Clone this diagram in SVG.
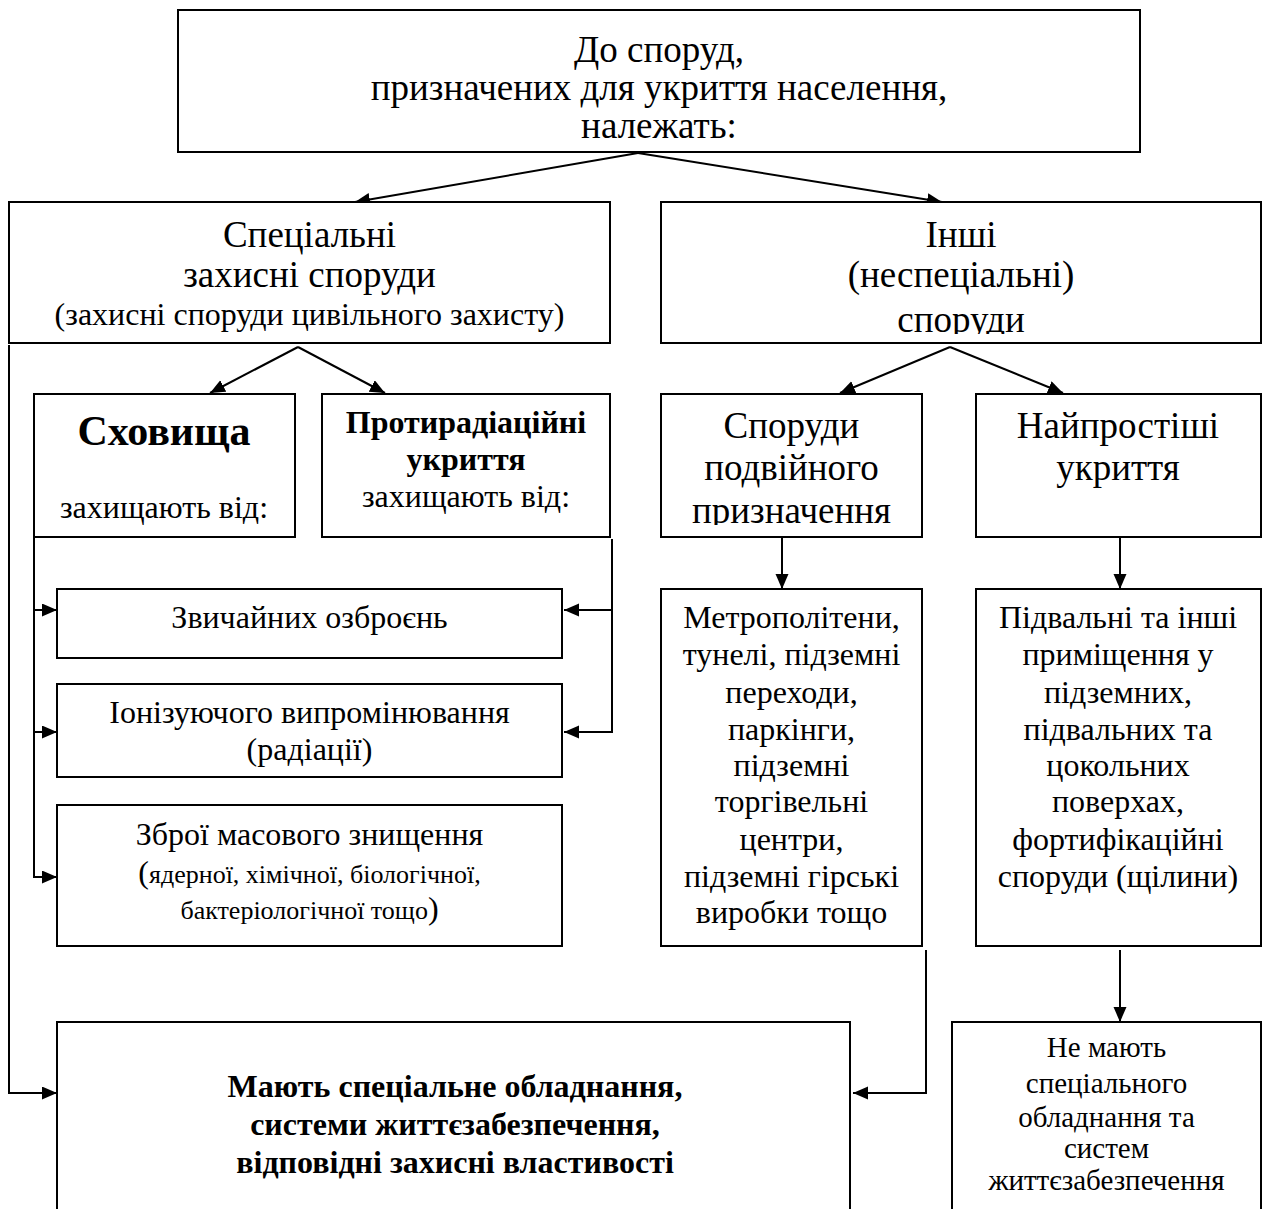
<svg xmlns="http://www.w3.org/2000/svg" width="1270" height="1209" viewBox="0 0 1270 1209">
<defs>
<style>
.box{fill:#fff;stroke:#000;stroke-width:2}
.t{font-family:"Liberation Serif","Times New Roman",serif;fill:#000;text-anchor:middle}
.c{fill:none;stroke:#000;stroke-width:2}
</style>
<marker id="ah" markerUnits="userSpaceOnUse" markerWidth="16" markerHeight="14" refX="15" refY="6.5" orient="auto">
<path d="M0,0 L15,6.5 L0,13 z" fill="#000"/>
</marker>
<clipPath id="clipInshi"><rect x="661" y="202" width="600" height="132"/></clipPath>
<clipPath id="clipSporudy"><rect x="661" y="394" width="261" height="131"/></clipPath>
</defs>
<rect width="1270" height="1209" fill="#fff"/>

<g id="connectors">
<line class="c" x1="638" y1="153" x2="355" y2="202" marker-end="url(#ah)"/>
<line class="c" x1="638" y1="153" x2="942" y2="202" marker-end="url(#ah)"/>
<line class="c" x1="298" y1="347" x2="210" y2="393" marker-end="url(#ah)"/>
<line class="c" x1="298" y1="347" x2="385" y2="393" marker-end="url(#ah)"/>
<line class="c" x1="950" y1="347" x2="840" y2="393" marker-end="url(#ah)"/>
<line class="c" x1="950" y1="347" x2="1063" y2="393" marker-end="url(#ah)"/>
<line class="c" x1="782" y1="537" x2="782" y2="589" marker-end="url(#ah)"/>
<line class="c" x1="1120" y1="537" x2="1120" y2="589" marker-end="url(#ah)"/>
<line class="c" x1="1120" y1="950" x2="1120" y2="1022" marker-end="url(#ah)"/>
<path class="c" d="M34,537 V877 H57" marker-end="url(#ah)"/>
<line class="c" x1="34" y1="610" x2="57" y2="610" marker-end="url(#ah)"/>
<line class="c" x1="34" y1="732" x2="57" y2="732" marker-end="url(#ah)"/>
<path class="c" d="M612,539 V732 H564" marker-end="url(#ah)"/>
<line class="c" x1="612" y1="610" x2="564" y2="610" marker-end="url(#ah)"/>
<path class="c" d="M9,345 V1093 H57" marker-end="url(#ah)"/>
<path class="c" d="M926,950 V1093 H853" marker-end="url(#ah)"/>
</g>

<g id="top">
<rect class="box" x="178" y="10" width="962" height="142"/>
<text class="t" font-size="37"><tspan x="659" y="62">До споруд,</tspan><tspan x="659" y="100">призначених для укриття населення,</tspan><tspan x="659" y="138">належать:</tspan></text>
</g>

<g id="special">
<rect class="box" x="9" y="202" width="601" height="141"/>
<text class="t" font-size="37"><tspan x="309.5" y="247">Спеціальні</tspan><tspan x="309.5" y="287">захисні споруди</tspan></text>
<text class="t" font-size="32" x="309.5" y="325">(захисні споруди цивільного захисту)</text>
</g>

<g id="other">
<rect class="box" x="661" y="202" width="600" height="141"/>
<g clip-path="url(#clipInshi)">
<text class="t" font-size="37"><tspan x="961" y="247">Інші</tspan><tspan x="961" y="287">(неспеціальні)</tspan><tspan x="961" y="332">споруди</tspan></text>
</g>
</g>

<g id="shelters">
<rect class="box" x="34" y="394" width="261" height="143"/>
<text class="t" font-size="42" font-weight="bold" x="164" y="445">Сховища</text>
<text class="t" font-size="32" x="164" y="518">захищають від:</text>
</g>

<g id="antirad">
<rect class="box" x="322" y="394" width="288" height="143"/>
<text class="t" font-size="32" font-weight="bold"><tspan x="466" y="433">Протирадіаційні</tspan><tspan x="466" y="470">укриття</tspan></text>
<text class="t" font-size="32" x="466" y="507">захищають від:</text>
</g>

<g id="dual">
<rect class="box" x="661" y="394" width="261" height="143"/>
<g clip-path="url(#clipSporudy)">
<text class="t" font-size="37"><tspan x="791.5" y="438">Споруди</tspan><tspan x="791.5" y="480">подвійного</tspan><tspan x="791.5" y="523">призначення</tspan></text>
</g>
</g>

<g id="simple">
<rect class="box" x="976" y="394" width="285" height="143"/>
<text class="t" font-size="37"><tspan x="1118" y="438">Найпростіші</tspan><tspan x="1118" y="480">укриття</tspan></text>
</g>

<g id="conventional">
<rect class="box" x="57" y="589" width="505" height="69"/>
<text class="t" font-size="32" x="309.5" y="628">Звичайних озброєнь</text>
</g>

<g id="ionizing">
<rect class="box" x="57" y="684" width="505" height="93"/>
<text class="t" font-size="32"><tspan x="309.5" y="723">Іонізуючого випромінювання</tspan><tspan x="309.5" y="760">(радіації)</tspan></text>
</g>

<g id="wmd">
<rect class="box" x="57" y="805" width="505" height="141"/>
<text class="t" font-size="32" x="309.5" y="845">Зброї масового знищення</text>
<text class="t" font-size="26" x="309.5" y="883"><tspan font-size="32">(</tspan>ядерної, хімічної, біологічної,</text>
<text class="t" font-size="26" x="309.5" y="919">бактеріологічної тощо<tspan font-size="32">)</tspan></text>
</g>

<g id="metro">
<rect class="box" x="661" y="589" width="261" height="357"/>
<text class="t" font-size="32"><tspan x="791.5" y="628">Метрополітени,</tspan><tspan x="791.5" y="665">тунелі, підземні</tspan><tspan x="791.5" y="703">переходи,</tspan><tspan x="791.5" y="740">паркінги,</tspan><tspan x="791.5" y="776">підземні</tspan><tspan x="791.5" y="812">торгівельні</tspan><tspan x="791.5" y="850">центри,</tspan><tspan x="791.5" y="887">підземні гірські</tspan><tspan x="791.5" y="923">виробки тощо</tspan></text>
</g>

<g id="basements">
<rect class="box" x="976" y="589" width="285" height="357"/>
<text class="t" font-size="32"><tspan x="1118" y="628">Підвальні та інші</tspan><tspan x="1118" y="665">приміщення у</tspan><tspan x="1118" y="703">підземних,</tspan><tspan x="1118" y="740">підвальних та</tspan><tspan x="1118" y="776">цокольних</tspan><tspan x="1118" y="812">поверхах,</tspan><tspan x="1118" y="850">фортифікаційні</tspan><tspan x="1118" y="887">споруди (щілини)</tspan></text>
</g>

<g id="have-equipment">
<path class="c" d="M57,1215 V1022 H850 V1215"/>
<text class="t" font-size="32" font-weight="bold"><tspan x="455" y="1097">Мають спеціальне обладнання,</tspan><tspan x="455" y="1135">системи життєзабезпечення,</tspan><tspan x="455" y="1173">відповідні захисні властивості</tspan></text>
</g>

<g id="no-equipment">
<path class="c" d="M952,1215 V1022 H1261 V1215"/>
<text class="t" font-size="29"><tspan x="1106.5" y="1057">Не мають</tspan><tspan x="1106.5" y="1093">спеціального</tspan><tspan x="1106.5" y="1127">обладнання та</tspan><tspan x="1106.5" y="1158">систем</tspan><tspan x="1106.5" y="1190">життєзабезпечення</tspan></text>
</g>
</svg>
